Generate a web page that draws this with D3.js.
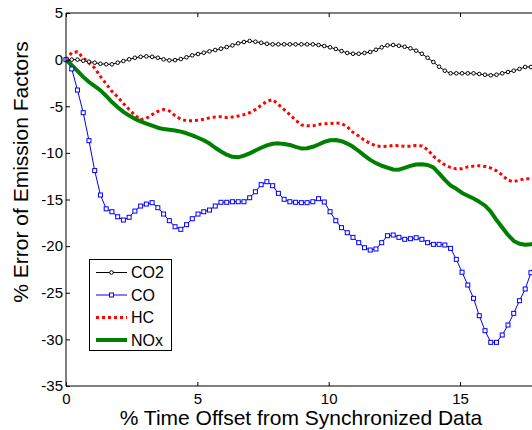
<!DOCTYPE html>
<meta charset="utf-8">
<style>
body { margin: 0; background: white; }
svg { display: block; font-family: "Liberation Sans", Arial, sans-serif; }
</style>
<body>
<script src="https://d3js.org/d3.v7.min.js"></script>
<script>
// sample spacing along x (in % offset units)
var xStep = 0.2185

var co2 = [0, 0, 0, -0.12, -0.22, -0.33, -0.44, -0.5, -0.5, -0.33,
    -0.15, 0.03, 0.2, 0.3, 0.35, 0.3, 0.2, 0.03, -0.08, -0.05,
    0.06, 0.25, 0.46, 0.6, 0.74, 0.89, 1.03, 1.17, 1.35, 1.53,
    1.75, 1.89, 2.0, 1.92, 1.81, 1.7, 1.64, 1.64, 1.64, 1.64,
    1.64, 1.64, 1.64, 1.64, 1.57, 1.46, 1.32, 1.14, 0.92, 0.71,
    0.63, 0.63, 0.71, 0.82, 1.06, 1.32, 1.53, 1.57, 1.49, 1.38,
    1.21, 0.96, 0.63, 0.2, -0.26, -0.76, -1.19, -1.47, -1.47, -1.47,
    -1.47, -1.47, -1.54, -1.62, -1.68, -1.62, -1.47, -1.33, -1.19, -1.0,
    -0.79, -0.79, -0.85]

var co = [0, -1.0, -3.26, -5.69, -8.69, -11.9, -14.52, -16.0, -16.31, -16.85,
    -17.2, -16.91, -16.24, -15.7, -15.49, -15.34, -15.88, -16.56, -17.27, -17.92,
    -18.2, -17.7, -17.06, -16.56, -16.31, -16.13, -15.7, -15.3, -15.3, -15.24,
    -15.24, -15.24, -14.81, -14.17, -13.41, -13.09, -13.52, -14.34, -14.98, -15.24,
    -15.3, -15.34, -15.34, -15.24, -14.91, -15.27, -16.31, -17.27, -18.02, -18.56,
    -19.06, -19.63, -20.17, -20.42, -20.31, -19.63, -18.88, -18.81, -19.06, -19.27,
    -19.2, -19.1, -19.27, -19.63, -19.81, -19.81, -19.88, -20.24, -21.42, -22.8,
    -24.17, -25.6, -27.46, -29.07, -30.32, -30.32, -29.53, -28.46, -27.21, -25.85,
    -24.6, -22.85, -21.3]

var hc = [0, 0.75, 0.85, 0.2, -0.35, -0.9, -1.8, -2.6, -3.4, -4.0,
    -4.7, -5.35, -5.95, -6.45, -6.3, -5.9, -5.55, -5.35, -5.5, -6.0,
    -6.4, -6.55, -6.55, -6.5, -6.4, -6.25, -6.15, -6.12, -6.2, -6.15,
    -6.05, -5.9, -5.7, -5.35, -4.9, -4.45, -4.3, -4.8, -5.35, -5.9,
    -6.5, -7.0, -7.1, -7.1, -6.95, -6.88, -6.85, -6.8, -6.85, -7.2,
    -7.8, -8.2, -8.65, -8.98, -9.25, -9.33, -9.28, -9.2, -9.23, -9.3,
    -9.28, -9.2, -9.25, -9.65, -10.35, -10.85, -11.28, -11.57, -11.72, -11.7,
    -11.5, -11.42, -11.38, -11.45, -11.62, -11.92, -12.38, -12.95, -13.08, -12.93,
    -12.76, -12.77, -12.8]

var nox = [0, -0.6, -1.2, -1.85, -2.4, -2.85, -3.3, -3.9, -4.55, -5.1,
    -5.6, -6.0, -6.35, -6.62, -6.86, -7.08, -7.3, -7.45, -7.52, -7.6,
    -7.72, -7.9, -8.12, -8.38, -8.65, -9.0, -9.45, -9.85, -10.2, -10.42,
    -10.48, -10.3, -10.05, -9.75, -9.45, -9.2, -9.02, -8.98, -9.05, -9.15,
    -9.35, -9.52, -9.5, -9.35, -9.1, -8.82, -8.65, -8.62, -8.75, -9.0,
    -9.35, -9.8, -10.3, -10.75, -11.1, -11.38, -11.58, -11.78, -11.8, -11.6,
    -11.4, -11.25, -11.22, -11.3, -11.55, -12.2, -12.9, -13.5, -13.85, -14.3,
    -14.6, -14.9, -15.25, -15.65, -16.3, -17.2, -18.0, -18.8, -19.45, -19.75,
    -19.85, -19.8, -19.7]

var names = ['CO2', 'CO', 'HC', 'NOx']
var xTicks = [0, 5, 10, 15]
var yTicks = [5, 0, -5, -10, -15, -20, -25, -30, -35]

var styles = {
    CO2: { color: '#000000', width: 1, marker: 'circle' },
    CO: { color: '#0000ff', width: 1, marker: 'square' },
    HC: { color: '#ff0000', width: 3, dash: '3,3' },
    NOx: { color: '#008000', width: 4 }
}

var width = 532
var height = 430

var x = d3.scaleLinear().domain([0, 20]).range([66, 66 + 20 * 26.27])
var y = d3.scaleLinear().domain([-35, 5]).range([386, 13])

var svg = d3.select('body').append('svg')
    .attr('width', width)
    .attr('height', height)

svg.append('rect').attr('width', width).attr('height', height).attr('fill', 'white')

var series = [co2, co, hc, nox].map(function (vals, k) {
    return {
        name: names[k],
        points: vals.map(function (v, i) { return [i * xStep, v] })
    }
})

var line = d3.line()
    .x(function (d) { return x(d[0]) })
    .y(function (d) { return y(d[1]) })

var plot = svg.append('g')

plot.selectAll('path.series')
    .data(series)
    .enter().append('path')
    .attr('class', 'series')
    .attr('d', function (d) { return line(d.points) })
    .attr('fill', 'none')
    .attr('stroke', function (d) { return styles[d.name].color })
    .attr('stroke-width', function (d) { return styles[d.name].width })
    .attr('stroke-dasharray', function (d) { return styles[d.name].dash || null })
    .attr('stroke-linejoin', 'round')

function drawMarkers(g, s, pts) {
    var st = styles[s]
    if (st.marker === 'circle') {
        g.selectAll('circle.m-' + s).data(pts).enter().append('circle')
            .attr('cx', function (d) { return x(d[0]) })
            .attr('cy', function (d) { return y(d[1]) })
            .attr('r', 1.8)
            .attr('fill', 'white')
            .attr('stroke', st.color)
            .attr('stroke-width', 1)
    } else if (st.marker === 'square') {
        g.selectAll('rect.m-' + s).data(pts).enter().append('rect')
            .attr('x', function (d) { return x(d[0]) - 2 })
            .attr('y', function (d) { return y(d[1]) - 2 })
            .attr('width', 4)
            .attr('height', 4)
            .attr('fill', 'white')
            .attr('stroke', st.color)
            .attr('stroke-width', 1)
    }
}

series.forEach(function (s) { drawMarkers(plot, s.name, s.points) })

// axes, MATLAB style: ticks inside, plain hyphen minus
var plain = function (d) { return String(d) }
var axisG = svg.append('g')

axisG.append('g')
    .attr('transform', 'translate(0,386)')
    .call(d3.axisBottom(x).tickValues(xTicks).tickFormat(plain).tickSizeInner(-4).tickSizeOuter(0).tickPadding(7))
axisG.append('g')
    .attr('transform', 'translate(0,13)')
    .call(d3.axisTop(x).tickValues(xTicks).tickSizeInner(-4).tickSizeOuter(0).tickFormat(''))
axisG.append('g')
    .attr('transform', 'translate(66,0)')
    .call(d3.axisLeft(y).tickValues(yTicks).tickFormat(plain).tickSizeInner(-4).tickSizeOuter(0).tickPadding(3))

axisG.selectAll('g')
    .attr('font-size', 15)
    .attr('font-family', '"Liberation Sans", Arial, sans-serif')
axisG.selectAll('.domain').remove()
axisG.selectAll('.tick line').attr('stroke', 'black')
axisG.selectAll('.tick text').attr('fill', 'black')

// box lines
svg.append('line').attr('x1', 66).attr('x2', width).attr('y1', 13).attr('y2', 13).attr('stroke', 'black')
svg.append('line').attr('x1', 66).attr('x2', width).attr('y1', 386).attr('y2', 386).attr('stroke', 'black')
svg.append('line').attr('x1', 66).attr('x2', 66).attr('y1', 13).attr('y2', 386).attr('stroke', 'black')

// axis titles
svg.append('text')
    .attr('x', 301)
    .attr('y', 425)
    .attr('text-anchor', 'middle')
    .attr('font-size', 21)
    .text('% Time Offset from Synchronized Data')

svg.append('text')
    .attr('transform', 'translate(28,172) rotate(-90)')
    .attr('text-anchor', 'middle')
    .attr('font-size', 21)
    .text('% Error of Emission Factors')

// legend
var legend = svg.append('g')
legend.append('rect')
    .attr('x', 89.5).attr('y', 259.5)
    .attr('width', 82).attr('height', 91)
    .attr('fill', 'white').attr('stroke', 'black')

names.forEach(function (n, i) {
    var ly = 272.5 + i * 22.5
    var st = styles[n]
    legend.append('line')
        .attr('x1', 96).attr('x2', 127).attr('y1', ly).attr('y2', ly)
        .attr('stroke', st.color).attr('stroke-width', st.width)
        .attr('stroke-dasharray', st.dash || null)
    drawMarkers(legend, n, [[x.invert(111.5), y.invert(ly)]])
    legend.append('text')
        .attr('x', 131).attr('y', ly)
        .attr('dy', '0.36em')
        .attr('font-size', 16)
        .text(n)
})
</script>
</body>
